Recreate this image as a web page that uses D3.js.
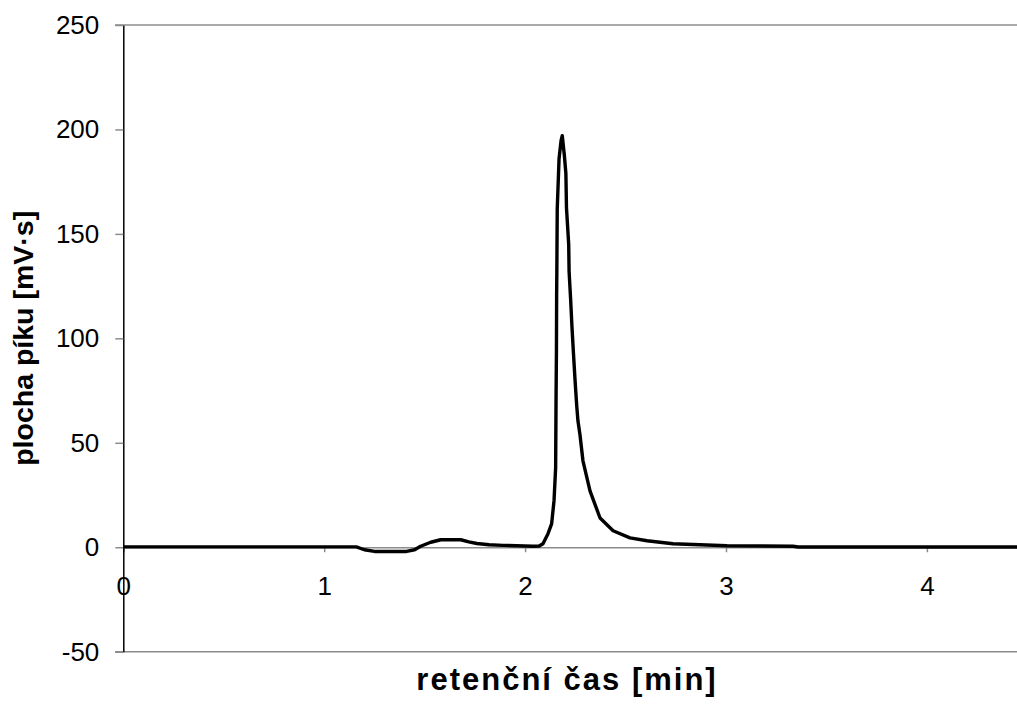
<!DOCTYPE html>
<html>
<head>
<meta charset="utf-8">
<script src="https://cdn.jsdelivr.net/npm/d3@7"></script>
<style>
  body { margin: 0; background: #fff; }
  svg { display: block; font-family: Arial, "Liberation Sans", sans-serif; }
</style>
</head>
<body>
<svg id="chart" width="1017" height="717"></svg>
<script>
// retention time [min] and detector signal
var time = [0, 1.16, 1.2, 1.25, 1.41, 1.45, 1.48, 1.53, 1.58, 1.68, 1.72, 1.76, 1.82, 1.89,
  2.04, 2.07, 2.089, 2.114, 2.132, 2.144, 2.152, 2.154, 2.156, 2.157, 2.158, 2.16, 2.169, 2.179, 2.185,
  2.195, 2.203, 2.206, 2.217, 2.219, 2.227, 2.233, 2.24, 2.248, 2.257, 2.263, 2.273, 2.288, 2.323,
  2.373, 2.438, 2.522, 2.607, 2.736, 2.87, 3.005, 3.333, 3.36, 4.45];
var signal = [0.2, 0.2, -1.2, -2.0, -2.0, -1.2, 0.5, 2.4, 3.6, 3.6, 2.6, 1.8, 1.2, 0.9,
  0.5, 0.6, 1.7, 6.5, 11.2, 22.3, 38, 70, 94, 121, 132, 162, 186, 194.6, 197,
  188, 179, 162.5, 145, 132, 118, 106, 94, 81, 67.7, 60.5, 54, 41.4, 27,
  14, 7.9, 4.5, 3.1, 1.7, 1.2, 0.7, 0.5, 0.1, 0.1];

var x_ticks = [0, 1, 2, 3, 4];
var y_ticks = [-50, 0, 50, 100, 150, 200, 250];
var x_title = "retenční čas [min]";
var y_title = "plocha píku [mV·s]";

var svg = d3.select("#chart");
var grey = "#8c8c8c";

var x = d3.scaleLinear().domain([0, 4.45]).range([123.3, 1017.3]);
var y = d3.scaleLinear().domain([-50, 250]).range([651.7, 25]);

// plot area frame (top and bottom)
[250, -50].forEach(function(v) {
  svg.append("line")
    .attr("x1", 115).attr("x2", 1017)
    .attr("y1", y(v)).attr("y2", y(v))
    .attr("stroke", grey).attr("stroke-width", 1.5);
});

// x axis sits on zero
var x_axis = svg.append("g")
  .attr("transform", "translate(0," + y(0) + ")")
  .call(d3.axisBottom(x).tickValues(x_ticks).tickSize(5).tickPadding(24).tickFormat(String));
x_axis.select(".domain").attr("stroke", grey).attr("stroke-width", 1.5);
x_axis.selectAll(".tick line").attr("stroke", grey).attr("stroke-width", 1.5);
x_axis.selectAll("text").attr("font-size", 26).attr("fill", "#000").attr("font-family", null);

var y_axis = svg.append("g")
  .attr("transform", "translate(" + x(0) + ",0)")
  .call(d3.axisLeft(y).tickValues(y_ticks).tickSize(8).tickPadding(16).tickSizeOuter(0).tickFormat(String));
y_axis.select(".domain").attr("stroke", "#000").attr("stroke-width", 1.5);
y_axis.selectAll(".tick line").attr("stroke", grey).attr("stroke-width", 1.5);
y_axis.selectAll("text").attr("font-size", 26).attr("fill", "#000").attr("font-family", null);

// signal trace
var pts = time.map(function(t, i) { return [t, signal[i]]; });
svg.append("path")
  .datum(pts)
  .attr("fill", "none")
  .attr("stroke", "#000")
  .attr("stroke-width", 3.4)
  .attr("stroke-linejoin", "round")
  .attr("d", d3.line().x(function(d) { return x(d[0]); }).y(function(d) { return y(d[1]); }));

// titles
svg.append("text")
  .attr("x", 567).attr("y", 690)
  .attr("text-anchor", "middle")
  .attr("font-size", 31).attr("font-weight", "bold")
  .attr("letter-spacing", 2)
  .text(x_title);

svg.append("text")
  .attr("transform", "translate(33," + (y(250) + y(-50)) / 2 + ") rotate(-90)")
  .attr("text-anchor", "middle")
  .attr("font-size", 28.5).attr("font-weight", "bold")
  .text(y_title);
</script>
</body>
</html>
